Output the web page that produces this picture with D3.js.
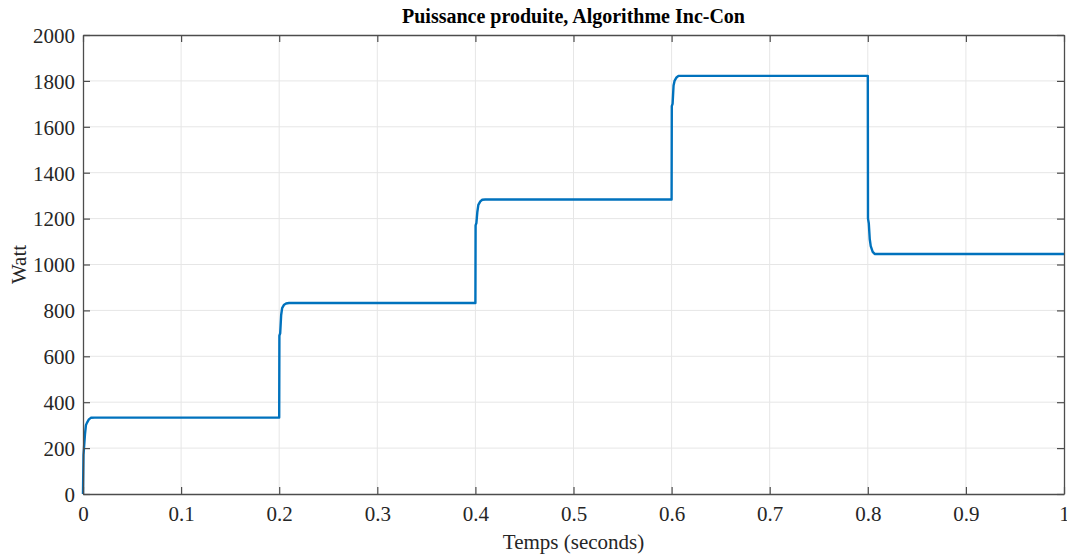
<!DOCTYPE html>
<html><head><meta charset="utf-8">
<script src="https://cdn.jsdelivr.net/npm/d3@7"></script>
<style>
html,body{margin:0;padding:0;background:#fff;}
svg{display:block;}
svg text{font-family:"Liberation Serif","Times New Roman",serif !important;}
</style></head>
<body>
<svg id="c" width="1067" height="556"></svg>
<script>
const title = "Puissance produite, Algorithme Inc-Con";
const xLabel = "Temps (seconds)";
const yLabel = "Watt";
const xTicks = [0,0.1,0.2,0.3,0.4,0.5,0.6,0.7,0.8,0.9,1];
const yTicks = [0,200,400,600,800,1000,1200,1400,1600,1800,2000];
const time = [0,0.0005,0.001,0.002,0.003,0.004,0.006,0.008,0.012,0.2,0.2002,0.201,0.202,0.203,0.205,0.207,0.21,0.4,0.4002,0.401,0.402,0.403,0.405,0.407,0.41,0.6,0.6002,0.601,0.602,0.603,0.605,0.607,0.61,0.8,0.8002,0.801,0.802,0.803,0.805,0.807,0.81,1.0];
const power = [0,170,200,260,300,310,325,332,333,333,690,700,780,810,825,830,832,832,1170,1180,1230,1260,1275,1282,1283,1283,1690,1700,1780,1800,1815,1822,1822,1822,1200,1180,1110,1080,1055,1046,1046,1046];

const W=1067,H=556, m={l:83,r:3,t:35,b:62};
const svg=d3.select("#c");
const x=d3.scaleLinear().domain([0,1]).range([m.l,W-m.r]);
const y=d3.scaleLinear().domain([0,2000]).range([H-m.b,m.t]);
const gridC="#e6e6e6", axC="#4d4d4d";
svg.append("g").selectAll("line").data(xTicks.slice(1,-1)).join("line")
 .attr("x1",d=>x(d)).attr("x2",d=>x(d)).attr("y1",y(0)).attr("y2",y(2000))
 .attr("stroke",gridC).attr("stroke-width",1);
svg.append("g").selectAll("line").data(yTicks.slice(1,-1)).join("line")
 .attr("y1",d=>y(d)).attr("y2",d=>y(d)).attr("x1",x(0)).attr("x2",x(1))
 .attr("stroke",gridC).attr("stroke-width",1);
svg.append("path").datum(time.map((t,i)=>[t,power[i]]))
 .attr("fill","none").attr("stroke","#0072BD").attr("stroke-width",2.4)
 .attr("stroke-linejoin","round")
 .attr("d",d3.line().x(d=>x(d[0])).y(d=>y(d[1])));
const tl=7;
const fmt=d=>String(d);
const xa=svg.append("g").attr("transform",`translate(0,${y(0)})`)
 .call(d3.axisBottom(x).tickValues(xTicks).tickFormat(fmt).tickSizeInner(-tl).tickSizeOuter(0).tickPadding(12));
const xt=svg.append("g").attr("transform",`translate(0,${y(2000)})`)
 .call(d3.axisTop(x).tickValues(xTicks).tickFormat("").tickSizeInner(-tl).tickSizeOuter(0));
const ya=svg.append("g").attr("transform",`translate(${x(0)},0)`)
 .call(d3.axisLeft(y).tickValues(yTicks).tickFormat(fmt).tickSizeInner(-tl).tickSizeOuter(0).tickPadding(8));
const yr=svg.append("g").attr("transform",`translate(${x(1)},0)`)
 .call(d3.axisRight(y).tickValues(yTicks).tickFormat("").tickSizeInner(-tl).tickSizeOuter(0));
[xa,xt,ya,yr].forEach(g=>{
  g.attr("font-family",null).attr("font-size",null);
  g.select(".domain").attr("stroke",axC).attr("stroke-width",1.3);
  g.selectAll(".tick line").attr("stroke",axC).attr("stroke-width",1.2);
  g.selectAll("text").attr("fill","#262626").style("font-size","21px");
});
ya.selectAll("text").attr("dy","0.35em");
svg.append("text").attr("x",(x(0)+x(1))/2).attr("y",23).attr("text-anchor","middle")
 .style("font-size","20px").style("font-weight","bold").attr("fill","#000").text(title);
svg.append("text").attr("x",(x(0)+x(1))/2).attr("y",549).attr("text-anchor","middle")
 .style("font-size","21px").attr("fill","#262626").text(xLabel);
svg.append("text").attr("transform",`translate(26,${(y(0)+y(2000))/2}) rotate(-90)`).attr("text-anchor","middle")
 .style("font-size","21px").attr("fill","#262626").text(yLabel);
</script>
</body></html>
